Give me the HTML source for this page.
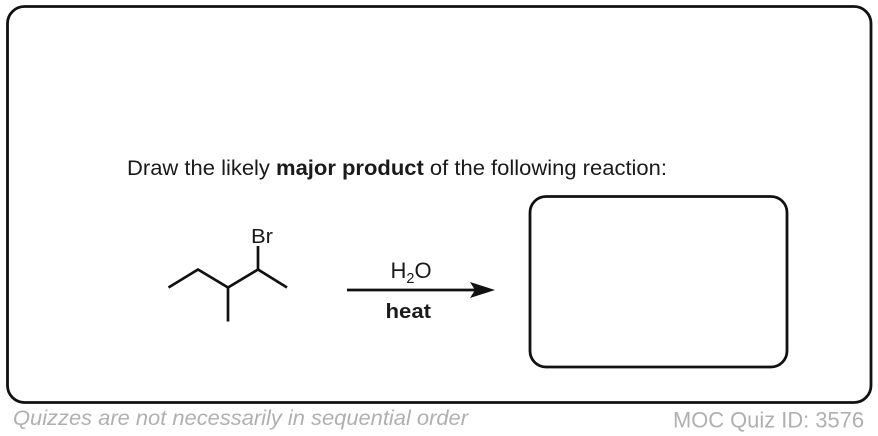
<!DOCTYPE html>
<html>
<head>
<meta charset="utf-8">
<style>
html,body{margin:0;padding:0;background:#fff;}
svg{display:block;}
text{font-family:"Liberation Sans",Arial,sans-serif;}
</style>
</head>
<body>
<svg width="878" height="436" viewBox="0 0 878 436" xmlns="http://www.w3.org/2000/svg">
<rect width="878" height="436" fill="#fff"/>
<rect x="7.5" y="6.5" width="863.5" height="396" rx="17" ry="17" fill="#fff" stroke="#111" stroke-width="2.8"/>
<text x="127" y="175" font-size="21" fill="#1a1a1a" textLength="540" lengthAdjust="spacingAndGlyphs">Draw the likely <tspan font-weight="bold">major product</tspan> of the following reaction:</text>
<rect x="530" y="196.5" width="257" height="170.5" rx="16" ry="16" fill="#fff" stroke="#111" stroke-width="2.8"/>
<g fill="none" stroke="#111" stroke-width="2.7" stroke-linejoin="round" stroke-linecap="butt">
<polyline points="168.5,287.5 198,269.5 228,287.5 258,269.5 287,287.5"/>
<line x1="228" y1="287" x2="228" y2="321.5"/>
<line x1="258" y1="269.5" x2="258" y2="246"/>
</g>
<text x="251" y="243" font-size="20.5" fill="#1a1a1a" textLength="22" lengthAdjust="spacingAndGlyphs">Br</text>
<line x1="347" y1="290" x2="476" y2="290" stroke="#111" stroke-width="2.7"/>
<polygon points="470,282 495,290 470,298 475,290" fill="#111"/>
<text x="390.5" y="278" font-size="22" fill="#1a1a1a">H<tspan font-size="14.5" dy="5">2</tspan><tspan dy="-5">O</tspan></text>
<text x="385.5" y="318" font-size="20" font-weight="bold" fill="#1a1a1a" textLength="45.5" lengthAdjust="spacingAndGlyphs">heat</text>
<text x="13" y="425" font-size="21" font-style="italic" fill="#b0b0b0" textLength="455" lengthAdjust="spacingAndGlyphs">Quizzes are not necessarily in sequential order</text>
<text x="673" y="427.5" font-size="22" fill="#b0b0b0" textLength="191" lengthAdjust="spacingAndGlyphs">MOC Quiz ID: 3576</text>
</svg>
</body>
</html>
